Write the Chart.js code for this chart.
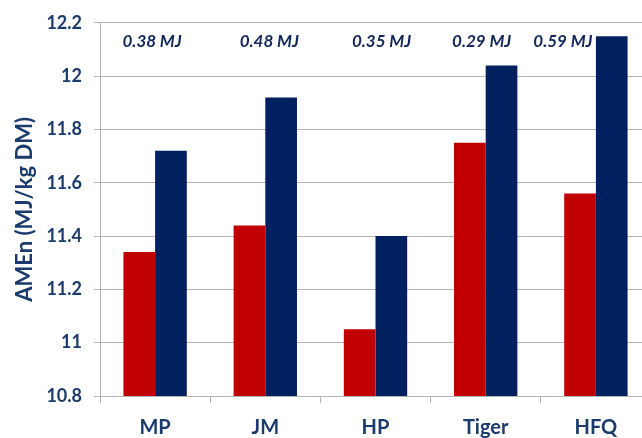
<!DOCTYPE html>
<html>
<head>
<meta charset="utf-8">
<script src="https://cdn.jsdelivr.net/npm/chart.js@4/dist/chart.umd.min.js"></script>
<style>
  html, body { margin: 0; padding: 0; background: #fff; overflow: hidden; }
  /* plot runs a little past the right edge of the window */
  #wrap { width: 652px; height: 438px; position: relative; }
</style>
</head>
<body>
<div id="wrap"><canvas id="amen"></canvas></div>
<script>
const categories = ['MP', 'JM', 'HP', 'Tiger', 'HFQ'];
const before = [11.34, 11.44, 11.05, 11.75, 11.56];
const after = [11.72, 11.92, 11.40, 12.04, 12.15];
const gains = ['0.38 MJ', '0.48 MJ', '0.35 MJ', '0.29 MJ', '0.59 MJ'];

// nudges for the gain labels, px from each category centre
const gainShift = [-3, 4, 6, -4, -33];

const GRID = '#b4b4b4';
const INK = '#1a3b6b';

const gainLabels = {
  id: 'gainLabels',
  afterDatasetsDraw(chart) {
    const { ctx, scales } = chart;
    ctx.save();
    ctx.font = 'italic bold 17px Lato';
    ctx.fillStyle = '#12285a';
    ctx.textAlign = 'center';
    ctx.textBaseline = 'middle';
    gains.forEach((g, i) => {
      ctx.fillText(g, scales.x.getPixelForValue(i) + gainShift[i], 42);
    });
    ctx.restore();
  }
};

new Chart(document.getElementById('amen'), {
  type: 'bar',
  data: {
    labels: categories,
    datasets: [
      { label: 'before', data: before, backgroundColor: '#c00000' },
      { label: 'after', data: after, backgroundColor: '#002060' }
    ]
  },
  options: {
    responsive: true,
    maintainAspectRatio: false,
    animation: false,
    categoryPercentage: 0.575,
    barPercentage: 1,
    layout: { padding: { top: 20, right: 1, left: 0, bottom: 0 } },
    plugins: { legend: { display: false }, tooltip: { enabled: false } },
    scales: {
      x: {
        grid: { drawOnChartArea: false, tickLength: 7, color: GRID, offset: true },
        border: { color: GRID },
        ticks: { color: INK, font: { family: 'Lato', size: 20, weight: 'bold' }, padding: 13 },
        afterFit(s) { s.height = 42; }
      },
      y: {
        min: 10.8,
        max: 12.2,
        ticks: {
          stepSize: 0.2,
          color: INK,
          padding: 12,
          font: { family: 'Lato', size: 18, weight: 'bold' },
          callback: v => +v.toFixed(1)
        },
        grid: { color: GRID, tickLength: 6 },
        border: { color: GRID },
        title: {
          display: true,
          text: 'AMEn (MJ/kg DM)',
          color: INK,
          font: { family: 'Lato', size: 22, weight: 'bold' },
          padding: { top: 12, bottom: 0 }
        },
        afterFit(s) { s.width = 100; }
      }
    }
  },
  plugins: [gainLabels]
});
</script>
</body>
</html>
